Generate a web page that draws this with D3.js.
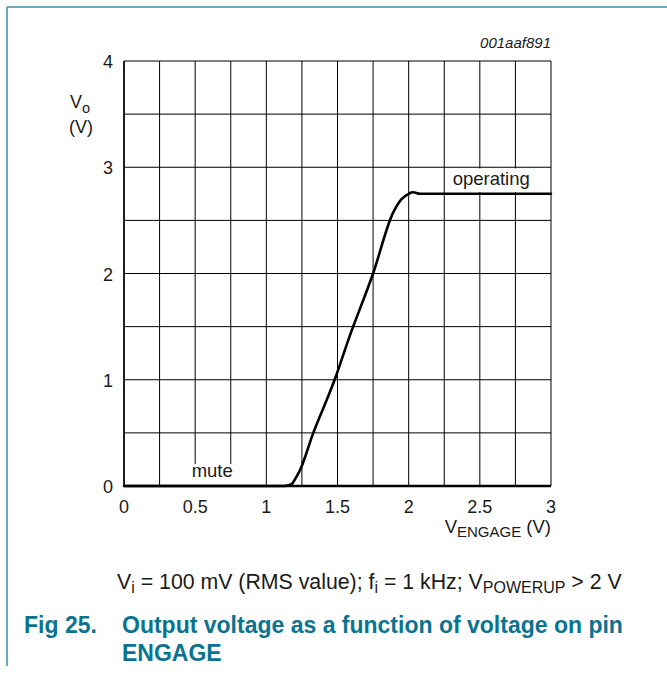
<!DOCTYPE html>
<html><head><meta charset="utf-8">
<script src="https://cdn.jsdelivr.net/npm/d3@7"></script>
<style>
html,body{margin:0;padding:0;background:#fff;}
svg{display:block;font-family:"Liberation Sans",Arial,sans-serif;}
</style></head>
<body>
<svg id="chart" width="667" height="674"></svg>
<script>
// Data
const engageV = [0, 1.1, 1.15, 1.18, 1.2, 1.237, 1.33, 1.424, 1.48, 1.58, 1.75, 1.89, 1.95, 2.0, 2.03, 2.08, 3];
const outputV = [0, 0, 0.005, 0.02, 0.06, 0.15, 0.5, 0.81, 1.0, 1.39, 2.0, 2.57, 2.7, 2.75, 2.765, 2.75, 2.75];
const xTicks = [0, 0.5, 1, 1.5, 2, 2.5, 3];
const xTickLabels = ["0", "0.5", "1", "1.5", "2", "2.5", "3"];
const yTicks = [0, 1, 2, 3, 4];
const yTickLabels = ["0", "1", "2", "3", "4"];
const xGrid = d3.range(0, 13).map(i => i * 0.25);
const yGrid = d3.range(0, 9).map(i => i * 0.5);

const svg = d3.select("#chart");
const teal = "#6aa8bd";
const titleColor = "#0a7390";
const ink = "#1a1a1a";

// page frame
svg.append("line").attr("x1", 7).attr("y1", 7).attr("x2", 667).attr("y2", 7)
  .attr("stroke", teal).attr("stroke-width", 2);
svg.append("line").attr("x1", 7).attr("y1", 7).attr("x2", 7).attr("y2", 666)
  .attr("stroke", teal).attr("stroke-width", 2);

const x = d3.scaleLinear().domain([0, 3]).range([124, 551]);
const y = d3.scaleLinear().domain([0, 4]).range([486, 61]);

// grid
svg.append("g").selectAll("line").data(xGrid).join("line")
  .attr("x1", d => x(d)).attr("x2", d => x(d))
  .attr("y1", y(0)).attr("y2", y(4))
  .attr("stroke", "#000").attr("stroke-width", 1);
svg.append("g").selectAll("line").data(yGrid).join("line")
  .attr("x1", x(0)).attr("x2", x(3))
  .attr("y1", d => y(d)).attr("y2", d => y(d))
  .attr("stroke", "#000").attr("stroke-width", 1);
// left axis heavier
svg.append("line").attr("x1", x(0)).attr("x2", x(0)).attr("y1", y(0)).attr("y2", y(4))
  .attr("stroke", "#000").attr("stroke-width", 1.5);

// annotations with white background
function boxedText(txt, cx, baseline, x0, x1, y0, y1) {
  svg.append("rect").attr("x", x0).attr("y", y0).attr("width", x1 - x0).attr("height", y1 - y0)
    .attr("fill", "#fff");
  svg.append("text").attr("x", cx).attr("y", baseline).attr("text-anchor", "middle")
    .attr("font-size", 18.5).attr("fill", ink).text(txt);
}
boxedText("mute", x(0.62), 477, x(0.62) - 25, x(0.62) + 25, 464, 485);
boxedText("operating", x(2.58), 185, 447, 537, 168.5, 192);

// bottom axis heavier
svg.append("line").attr("x1", x(0)).attr("x2", x(3)).attr("y1", y(0)).attr("y2", y(0))
  .attr("stroke", "#000").attr("stroke-width", 2.5);

// curve
const pts = engageV.map((v, i) => [v, outputV[i]]);
svg.append("path").datum(pts)
  .attr("d", d3.line().x(d => x(d[0])).y(d => y(d[1])).curve(d3.curveMonotoneX))
  .attr("fill", "none").attr("stroke", "#000").attr("stroke-width", 2.6)
  .attr("stroke-linejoin", "round").attr("stroke-linecap", "round");

// tick labels
svg.append("g").selectAll("text").data(xTicks).join("text")
  .attr("x", d => x(d)).attr("y", 513).attr("text-anchor", "middle")
  .attr("font-size", 18).attr("fill", ink).text((d, i) => xTickLabels[i]);
svg.append("g").selectAll("text").data(yTicks).join("text")
  .attr("x", 113).attr("y", d => y(d) + 7).attr("text-anchor", "end")
  .attr("font-size", 18).attr("fill", ink).text((d, i) => yTickLabels[i]);

// axis titles
const yl = svg.append("text").attr("x", 70).attr("y", 108).attr("font-size", 18).attr("fill", ink);
yl.append("tspan").text("V");
yl.append("tspan").attr("dy", 5).attr("font-size", 14.5).text("o");
svg.append("text").attr("x", 69).attr("y", 133).attr("font-size", 18).attr("fill", ink).text("(V)");

const xl = svg.append("text").attr("x", 551).attr("y", 533).attr("text-anchor", "end")
  .attr("font-size", 18.5).attr("fill", ink);
xl.append("tspan").text("V");
xl.append("tspan").attr("dy", 4).attr("font-size", 15).text("ENGAGE");
xl.append("tspan").attr("dy", -4).text(" (V)");

// id label
svg.append("text").attr("x", 551).attr("y", 48).attr("text-anchor", "end")
  .attr("font-size", 15).attr("font-style", "italic").attr("fill", ink).text("001aaf891");

// conditions caption
const cap = svg.append("text").attr("x", 117).attr("y", 589).attr("font-size", 21.3).attr("fill", ink);
cap.append("tspan").text("V");
cap.append("tspan").attr("dy", 4).attr("font-size", 16).text("i");
cap.append("tspan").attr("dy", -4).text(" = 100 mV (RMS value); f");
cap.append("tspan").attr("dy", 4).attr("font-size", 16).text("i");
cap.append("tspan").attr("dy", -4).text(" = 1 kHz; V");
cap.append("tspan").attr("dy", 4).attr("font-size", 16).text("POWERUP");
cap.append("tspan").attr("dy", -4).text(" > 2 V");

// figure title
svg.append("text").attr("x", 24).attr("y", 633).attr("font-size", 23).attr("font-weight", "bold")
  .attr("fill", titleColor).text("Fig 25.");
svg.append("text").attr("x", 122).attr("y", 633).attr("font-size", 23).attr("font-weight", "bold")
  .attr("fill", titleColor).text("Output voltage as a function of voltage on pin");
svg.append("text").attr("x", 122).attr("y", 661).attr("font-size", 23).attr("font-weight", "bold")
  .attr("fill", titleColor).text("ENGAGE");
</script>
</body></html>
